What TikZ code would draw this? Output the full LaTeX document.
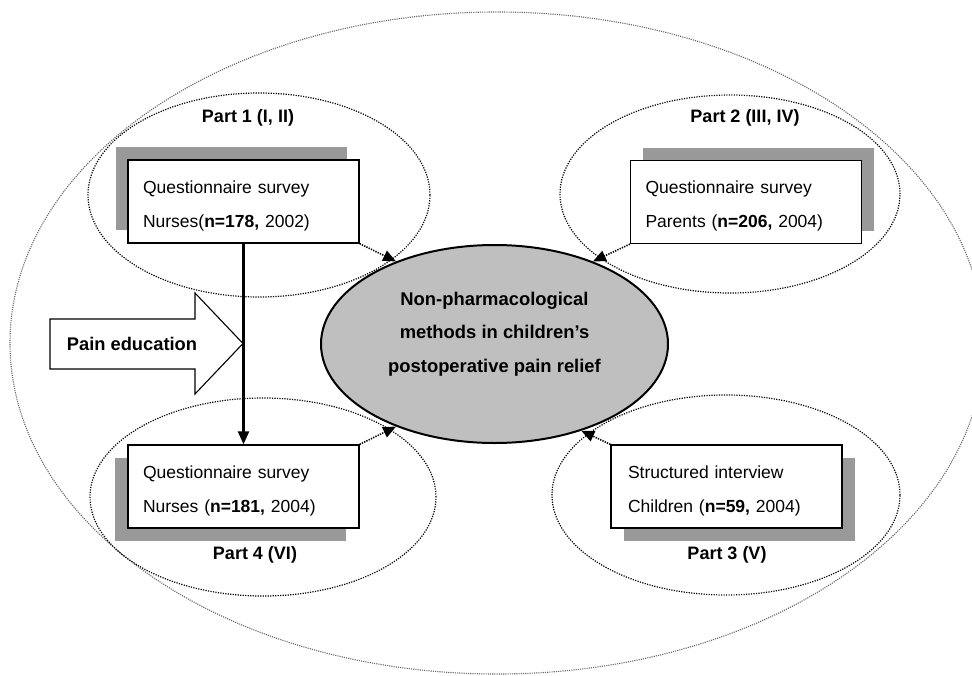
\documentclass[tikz,border=0pt]{standalone}
\usepackage{fontspec}
\setmainfont{Liberation Sans}
\usetikzlibrary{shapes.geometric,arrows.meta}
\tikzset{
  outerring/.style={draw=black!60, line width=1.1pt, dash pattern=on 1.1pt off 1.1pt, ellipse, inner sep=0pt},
  partring/.style={draw=black, line width=1.2pt, dash pattern=on 1.2pt off 1.3pt, ellipse, inner sep=0pt},
  shadowbox/.style={fill=black!40, draw=none, minimum width=231pt, minimum height=83pt, inner sep=0pt},
  studybox/.style={draw=black, line width=1.3pt, fill=white, minimum width=231pt, minimum height=83pt,
    text width=201pt, inner xsep=15pt, align=left, font=\fontsize{17.5}{34}\selectfont},
  partlabel/.style={font=\fontsize{18}{22}\selectfont\bfseries, inner sep=1pt},
  centreell/.style={ellipse, draw=black, line width=2pt, fill=black!25, minimum width=347pt, minimum height=198pt, inner sep=0pt},
  centretext/.style={font=\fontsize{18.4}{33.5}\selectfont\bfseries, align=center, inner sep=0pt},
  dotarrow/.style={draw=black, line width=1.6pt, dash pattern=on 1.3pt off 1.2pt, -{Triangle[length=13pt,width=11pt]}},
  solidarrow/.style={draw=black, line width=2.3pt, -{Triangle[length=13pt,width=11pt]}},
  blockarrow/.style={draw=black, line width=1.1pt, fill=white},
}
\begin{document}
\begin{tikzpicture}[x=1pt,y=-1pt]
\useasboundingbox (0,0) rectangle (972,675);
\clip (0,0) rectangle (972,675);
\fill[white] (0,0) rectangle (972,675);

% outer ring
\node[outerring, minimum width=974pt, minimum height=662pt] (outer) at (497,343) {};

% part rings
\node[partring, minimum width=342pt, minimum height=204pt] (r1) at (259,195) {};
\node[partring, minimum width=340pt, minimum height=198pt] (r2) at (730,194) {};
\node[partring, minimum width=346pt, minimum height=198pt] (r4) at (263,497) {};
\node[partring, minimum width=348pt, minimum height=200pt] (r3) at (726,495) {};

% part labels
\node[partlabel] (l1) at (248,118) {Part 1 (I, II)};
\node[partlabel] (l2) at (745,118) {Part 2 (III, IV)};
\node[partlabel] (l4) at (255,555) {Part 4 (VI)};
\node[partlabel] (l3) at (727,555) {Part 3 (V)};

% shadows
\node[shadowbox] (s1) at (231,188.5) {};
\node[shadowbox] (s2) at (758,189.5) {};
\node[shadowbox] (s4) at (230.5,499.5) {};
\node[shadowbox] (s3) at (739.5,499.5) {};

% boxes
\node[studybox] (b1) at (243.5,201.5) {\rule{0pt}{21pt}Questionnaire survey\\Nurses(\textbf{n=178,} 2002)};
\node[studybox] (b2) at (746,202) {\rule{0pt}{21pt}Questionnaire survey\\Parents (\textbf{n=206,} 2004)};
\node[studybox] (b4) at (243.5,486.5) {\rule{0pt}{21pt}Questionnaire survey\\Nurses (\textbf{n=181,} 2004)};
\node[studybox, inner xsep=17pt, text width=197pt] (b3) at (726.5,486.5) {\rule{0pt}{21pt}Structured interview\\Children (\textbf{n=59,} 2004)};

% centre
\node[centreell] (c) at (494.5,344) {};
\node[centretext] (ct) at (494.5,334) {Non-pharmacological\\methods in children’s\\postoperative pain relief};

% pain education block arrow
\draw[blockarrow] (50,319) -- (195,319) -- (195,293) -- (243,343.5) -- (195,394) -- (195,369) -- (50,369) -- cycle;
\node[font=\fontsize{18.3}{22}\selectfont\bfseries, inner sep=0pt] (pe) at (132,344) {Pain education};

% connectors
\draw[solidarrow] (b1.south) -- (b4.north);
\draw[dotarrow] (b1.south east) -- (c.140);
\draw[dotarrow] (b2.south west) -- (c.40);
\draw[dotarrow] (b4.north east) -- (c.220);
\draw[dotarrow] (b3.north west) -- (c.315);
\end{tikzpicture}
\end{document}
